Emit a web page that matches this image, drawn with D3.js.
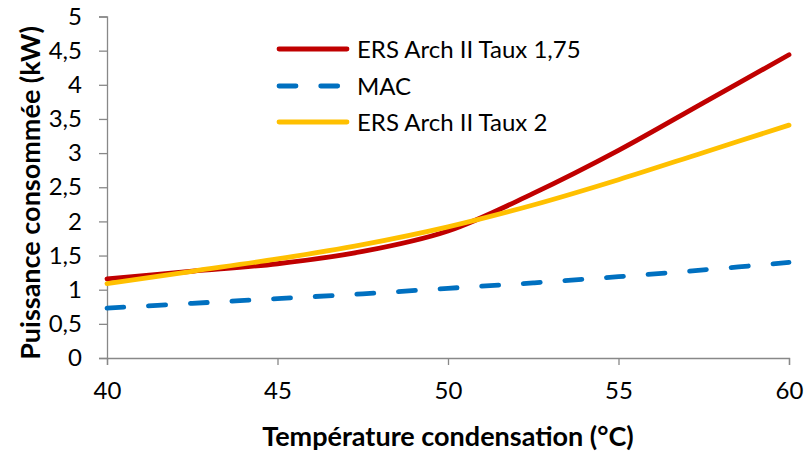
<!DOCTYPE html>
<html><head><meta charset="utf-8">
<script src="https://cdn.jsdelivr.net/npm/d3@7"></script>
<style>body{margin:0;background:#fff}svg{display:block}text{font-family:Lato,"Open Sans",sans-serif}</style>
</head><body>
<svg id="c" width="804" height="452"></svg>
<script>
const temps = [40, 42.5, 45, 47.5, 50, 52.5, 55, 57.5, 60];
const ers175 = [1.16, 1.27, 1.38, 1.56, 1.86, 2.41, 3.04, 3.74, 4.44];
const mac = [0.73, 0.80, 0.87, 0.94, 1.02, 1.10, 1.19, 1.29, 1.40];
const ers2 = [1.09, 1.27, 1.45, 1.66, 1.92, 2.24, 2.61, 3.01, 3.41];
const xTicks = [40, 45, 50, 55, 60];
const yTicks = [0, 0.5, 1, 1.5, 2, 2.5, 3, 3.5, 4, 4.5, 5];
const seriesNames = ["ERS Arch II Taux 1,75", "MAC", "ERS Arch II Taux 2"];
const colors = ["#C00000", "#0070C0", "#FFC000"];

const svg = d3.select("#c");
const x = d3.scaleLinear().domain([40, 60]).range([107, 789]);
const y = d3.scaleLinear().domain([0, 5]).range([358, 16.5]);
const fmt = d => String(d).replace(".", ",");

const xa = svg.append("g").attr("transform", "translate(0,358)")
  .call(d3.axisBottom(x).tickValues(xTicks).tickSize(7).tickPadding(17).tickFormat(fmt));
const ya = svg.append("g").attr("transform", "translate(107,0)")
  .call(d3.axisLeft(y).tickValues(yTicks).tickSize(8).tickPadding(17).tickFormat(fmt));
[xa, ya].forEach(a => {
  a.selectAll("path,line").attr("stroke", "#888").attr("stroke-width", 1.3);
  a.selectAll("text").attr("font-size", 24).attr("fill", "#000").style("font-family", "Lato, sans-serif");
});

const data = [ers175, mac, ers2];
const line = d3.line().x((d, i) => x(temps[i])).y(d => y(d)).curve(d3.curveCatmullRom.alpha(0.5));
const order = [1, 0, 2];
order.forEach(k => {
  svg.append("path").datum(data[k]).attr("d", line).attr("fill", "none")
    .attr("stroke", colors[k]).attr("stroke-width", 4.8)
    .attr("stroke-linecap", "round")
    .attr("stroke-dasharray", k === 1 ? "17,24.7" : null);
});

// legend
const ly = [49, 86, 122];
seriesNames.forEach((n, k) => {
  svg.append("line").attr("x1", 279).attr("x2", 347).attr("y1", ly[k]).attr("y2", ly[k])
    .attr("stroke", colors[k]).attr("stroke-width", 4.8).attr("stroke-linecap", "round")
    .attr("stroke-dasharray", k === 1 ? "17,24.7" : null);
  svg.append("text").attr("x", 357).attr("y", ly[k]).attr("dy", "0.36em")
    .attr("font-size", 24).text(n);
});

svg.append("text").attr("x", 448).attr("y", 446).attr("text-anchor", "middle")
  .attr("font-size", 27).attr("font-weight", "bold").text("Température condensation (°C)");
svg.append("text").attr("transform", "translate(40,193) rotate(-90)").attr("text-anchor", "middle")
  .attr("font-size", 27).attr("font-weight", "bold").text("Puissance consommée (kW)");
</script>
</body></html>
